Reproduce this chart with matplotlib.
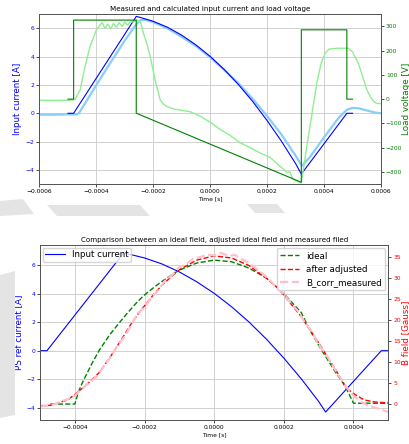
import numpy as np
import matplotlib.pyplot as plt
from matplotlib.patches import Polygon

# calculated input current (both charts)
t_calc = [-0.0005, -0.00048, -0.00026, -0.00025, -0.0002, -0.00015, -0.0001, -0.00005, 0.0,
          0.00005, 0.0001, 0.00015, 0.0002, 0.00025, 0.0003, 0.00032, 0.00048, 0.0005]
I_calc = [0, 0, 6.85, 6.80, 6.50, 6.08, 5.52, 4.83, 4.02,
          3.08, 2.01, 0.81, -0.52, -1.97, -3.56, -4.3, 0, 0]

# calculated load voltage
t_vcalc = [-0.0005, -0.00048, -0.00048, -0.00026, -0.00026, 0.00032, 0.00032, 0.00048, 0.00048, 0.0005]
V_calc = [0, 0, 326, 326, -58, -343, 286, 286, 0, 0]

# measured input current
t_imeas = [-0.0006, -0.00055, -0.0005, -0.000468, -0.00046, -0.0004, -0.00035, -0.0003, -0.00026,
           -0.000245, -0.00023, -0.0002, -0.00015, -0.0001, -0.00005, 0.0, 0.00005, 0.0001, 0.00015,
           0.0002, 0.00025, 0.0003, 0.000322, 0.00035, 0.0004, 0.00045, 0.00048, 0.0005, 0.00052,
           0.00055, 0.00058, 0.0006]
I_meas = [-0.1, -0.1, -0.08, -0.08, 0.05, 2.0, 3.6, 5.15, 6.3,
          6.58, 6.62, 6.45, 6.0, 5.4, 4.75, 3.95, 3.05, 2.1, 1.0,
          -0.2, -1.5, -3.0, -3.72, -3.1, -1.7, -0.35, 0.25, 0.38, 0.36,
          0.2, 0.05, 0.0]

# measured load voltage
t_vmeas = [-0.0006, -0.00055, -0.0005, -0.000475, -0.000457, -0.00044, -0.000422, -0.0004, -0.00038,
           -0.00037, -0.00036, -0.00035, -0.00034, -0.00033, -0.00032, -0.00031, -0.0003, -0.00029,
           -0.00028, -0.00027, -0.000258, -0.000245, -0.000235, -0.000223, -0.000211, -0.000194,
           -0.000176, -0.000165, -0.000153, -0.00013, -0.000106, -0.00007, -0.000036, 0.0, 0.000035,
           0.00007, 0.000105, 0.00014, 0.000175, 0.00021, 0.000245, 0.00026, 0.000269, 0.00028,
           0.00029, 0.000304, 0.00032, 0.00034, 0.00036, 0.000375, 0.00039, 0.000404, 0.000418,
           0.00045, 0.000485, 0.0005, 0.00052, 0.000535, 0.00055, 0.000565, 0.000574, 0.000585, 0.0006]
V_meas = [-5, -5, -5, -2, 39, 135, 218, 286, 316,
          292, 310, 290, 312, 296, 315, 300, 318, 305,
          320, 318, 327, 318, 272, 230, 176, 80,
          -2, -20, -30, -40, -45, -52, -70, -95, -125,
          -150, -180, -200, -222, -240, -277, -290, -303, -300,
          -330, -338, -345, -190, -40, 70, 150, 190, 207,
          210, 210, 195, 149, 95, 39, 5, -9, -18, -18]

# B field: ideal
t_ideal = [-0.00047, -0.0004, -0.00039, -0.00038, -0.00037, -0.00035, -0.00033, -0.0003, -0.00027,
           -0.00025, -0.00022, -0.0002, -0.00017, -0.00015, -0.00012, -0.0001, -0.00005, 0.0,
           0.00005, 0.0001, 0.00015, 0.00018, 0.0002, 0.00025, 0.000275, 0.0003, 0.00033, 0.00035,
           0.00037, 0.00038, 0.00039, 0.0004, 0.0005]
B_ideal = [0, 0, 2.8, 4.8, 6.5, 9.8, 12.8, 16.5, 19.6,
           21.6, 24.4, 26.0, 28.0, 29.2, 30.9, 31.9, 33.6, 34.3,
           33.9, 32.4, 30.0, 27.9, 26.3, 21.8, 17.6, 14.0, 10.0, 7.4,
           5.0, 3.6, 1.9, 0.2, 0.2]

# B field: after adjusted
t_adj = [-0.0005, -0.00047, -0.00045, -0.00042, -0.0004, -0.00037, -0.00033, -0.0003, -0.00026,
         -0.00024, -0.00022, -0.0002, -0.00017, -0.00015, -0.00012, -0.0001, -0.00005, 0.0,
         0.00005, 0.0001, 0.00015, 0.00018, 0.0002, 0.00025, 0.0003, 0.00033, 0.00035, 0.00038,
         0.0004, 0.00043, 0.00046, 0.0005]
B_adj = [-0.4, -0.3, 0.2, 1.0, 2.3, 4.3, 7.5, 11.0, 16.2,
         18.9, 21.3, 23.4, 26.5, 28.3, 30.6, 32.0, 34.3, 35.3,
         34.8, 33.0, 30.0, 27.8, 26.0, 20.8, 14.6, 10.6, 8.0, 3.8,
         2.5, 1.0, 0.5, 0.25]

# B field: measured (B_corr_measured)
t_bmeas = np.linspace(-0.0005, 0.0005, 51)
B_meas = [-0.6, -0.4, -0.1, 0.6, 1.2, 2.0, 3.6, 5.0, 6.4, 8.6,
          10.8, 13.6, 15.8, 18.5, 21.6, 23.0, 25.4, 27.2, 29.5, 30.8,
          32.6, 33.4, 34.6, 35.0, 35.6, 35.4, 36.0, 35.3, 35.5, 34.5,
          33.6, 32.3, 31.0, 29.5, 27.6, 26.3, 24.0, 22.2, 19.5, 17.3,
          14.2, 12.0, 9.2, 6.5, 4.0, 2.0, 0.6, -0.3, -0.8, -1.3, -1.9]

plt.rcParams['font.family'] = 'DejaVu Sans'
plt.rcParams['axes.linewidth'] = 0.7
plt.rcParams['axes.edgecolor'] = '#555555'
plt.rcParams['xtick.major.size'] = 2
plt.rcParams['ytick.major.size'] = 2
plt.rcParams['xtick.major.width'] = 0.5
plt.rcParams['ytick.major.width'] = 0.5
plt.rcParams['xtick.major.pad'] = 1.5
plt.rcParams['ytick.major.pad'] = 1.5

tick_fs = 4.3
lab_fs = 6.3
W, H = 410, 444
fig = plt.figure(figsize=(4.1, 4.44), dpi=100)

# grey watermark shapes behind everything (pixel coords, y from top)
marks = [
    [(0, 201), (23, 199), (34, 214), (0, 216)],
    [(47, 205), (140, 205), (150, 216), (57, 216)],
    [(247, 204), (277, 204), (285, 213), (255, 213)],
    [(0, 275), (15, 271), (15, 415), (0, 418)],
]
for m in marks:
    fig.patches.append(Polygon([(x / W, 1 - y / H) for x, y in m], closed=True,
                               transform=fig.transFigure, facecolor='#e4e4e4',
                               edgecolor='none', zorder=0))

# ---- top chart
ax1 = fig.add_axes([0.0963, 0.5856, 0.833, 0.3822])
ax1.plot(t_imeas, I_meas, color='lightskyblue', lw=1.6)
ax1.plot(t_calc, I_calc, color='blue', lw=0.8)
ax1.set_xlim(-0.0006, 0.0006)
ax1.set_ylim(-5, 7)
ax1.set_xticks([-0.0006, -0.0004, -0.0002, 0.0, 0.0002, 0.0004, 0.0006])
ax1.set_xticklabels(['−0.0006', '−0.0004', '−0.0002', '0.0000', '0.0002', '0.0004', '0.0006'])
ax1.set_yticks([-4, -2, 0, 2, 4, 6])
ax1.grid(color='#d0d0d0', lw=0.7)
ax1.tick_params(axis='x', labelsize=tick_fs)
ax1.tick_params(axis='y', labelsize=tick_fs, labelcolor='blue')
ax1.set_xlabel('Time [s]', fontsize=tick_fs, labelpad=1.5)
ax1.set_ylabel('Input current [A]', fontsize=lab_fs, color='blue', labelpad=2.5)
ax1.set_title('Measured and calculated input current and load voltage', fontsize=5.1, pad=2.5)

ax2 = ax1.twinx()
ax2.plot(t_vmeas, V_meas, color='lightgreen', lw=1.0)
ax2.plot(t_vcalc, V_calc, color='green', lw=0.8)
ax2.set_ylim(-350, 350)
ax2.set_yticks([-300, -200, -100, 0, 100, 200, 300])
ax2.tick_params(axis='y', labelsize=tick_fs, labelcolor='green')
ax2.set_ylabel('Load voltage [V]', fontsize=lab_fs, color='green', labelpad=0)

# ---- bottom chart
ax3 = fig.add_axes([0.0976, 0.0541, 0.8495, 0.3941])
ax3.plot(t_calc, I_calc, color='blue', lw=0.8, label='Input current')
ax3.set_xlim(-0.0005, 0.0005)
ax3.set_xticks([-0.0004, -0.0002, 0.0, 0.0002, 0.0004])
ax3.set_xticklabels(['−0.0004', '−0.0002', '0.0000', '0.0002', '0.0004'])
ax3.set_yticks([-4, -2, 0, 2, 4, 6])
ax3.grid(color='#d0d0d0', lw=0.7)
ax3.tick_params(axis='x', labelsize=tick_fs)
ax3.tick_params(axis='y', labelsize=tick_fs, labelcolor='blue')
ax3.set_xlabel('Time [s]', fontsize=tick_fs, labelpad=1.5)
ax3.set_ylabel('PS ref current [A]', fontsize=lab_fs, color='blue', labelpad=2.5)
ax3.set_title('Comparison between an ideal field, adjusted ideal field and measured filed',
              fontsize=5.1, pad=2.5)
ax3.legend(loc='upper left', fontsize=lab_fs, borderpad=0.3, handlelength=2.2,
           borderaxespad=0.3, framealpha=0.8)

ax4 = ax3.twinx()
ax4.plot(t_ideal, B_ideal, color='green', ls='--', lw=1.0, label='ideal')
ax4.plot(t_adj, B_adj, color='red', ls='--', lw=1.0, label='after adjusted')
ax4.plot(t_bmeas, B_meas, color='pink', ls='--', lw=1.6, label='B_corr_measured')
ax4.set_yticks([0, 5, 10, 15, 20, 25, 30, 35])
ax4.tick_params(axis='y', labelsize=tick_fs, labelcolor='red')
ax4.set_ylabel('B field [Gauss]', fontsize=lab_fs, color='red', labelpad=0.5)
ax4.legend(loc='upper right', fontsize=lab_fs, borderpad=0.35, handlelength=2.2,
           borderaxespad=0.4, labelspacing=0.5, framealpha=0.8)

fig.savefig('out.png', dpi=100)
